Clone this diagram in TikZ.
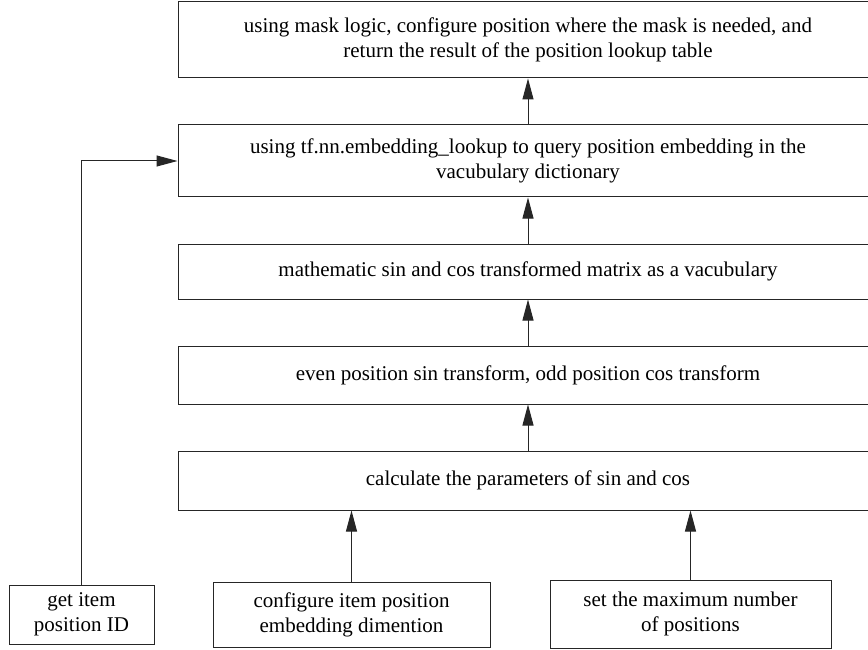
\documentclass[tikz,border=0pt]{standalone}
\usepackage{fontspec}
\setmainfont{Liberation Serif}
\usetikzlibrary{arrows.meta}
\begin{document}
\begin{tikzpicture}[x=1pt,y=-1pt,
  every node/.style={font=\fontsize{21}{25}\selectfont},
  box/.style={draw=black!85, line width=1pt, align=center, inner sep=0pt},
  bigbox/.style={box, minimum width=700pt},
  arr/.style={draw=black!85, line width=1pt, -{Triangle[length=21pt,width=11pt]}}]
  \clip (0,0) rectangle (868,650);
  % main processing chain
  \node[bigbox, minimum height=76pt] (b1) at (528,40)
    {using mask logic, configure position where the mask is needed, and\\return the result of the position lookup table};
  \node[bigbox, minimum height=72pt] (b2) at (528,161)
    {using tf.nn.embedding\_lookup to query position embedding in the\\vacubulary dictionary};
  \node[bigbox, minimum height=55pt] (b3) at (528,271.5)
    {mathematic sin and cos transformed matrix as a vacubulary};
  \node[bigbox, minimum height=58pt] (b4) at (528,375)
    {even position sin transform, odd position cos transform};
  \node[bigbox, minimum height=59pt] (b5) at (528,480.5)
    {calculate the parameters of sin and cos};
  % inputs
  \node[box, minimum width=145pt, minimum height=59pt] (in1) at (81.5,614.5)
    {get item\\position ID};
  \node[box, minimum width=277pt, minimum height=65pt] (in2) at (351.5,614.5)
    {configure item position\\embedding dimention};
  \node[box, minimum width=281pt, minimum height=68pt] (in3) at (690.5,614)
    {set the maximum number\\of positions};
  % connectors
  \draw[arr] (b2.north) -- (b1.south);
  \draw[arr] (b3.north) -- (b2.south);
  \draw[arr] (b4.north) -- (b3.south);
  \draw[arr] (b5.north) -- (b4.south);
  \draw[arr] (in2.north) -- (in2.north |- b5.south);
  \draw[arr] (in3.north) -- (in3.north |- b5.south);
  \draw[arr] (in1.north) |- (b2.west);
\end{tikzpicture}
\end{document}
